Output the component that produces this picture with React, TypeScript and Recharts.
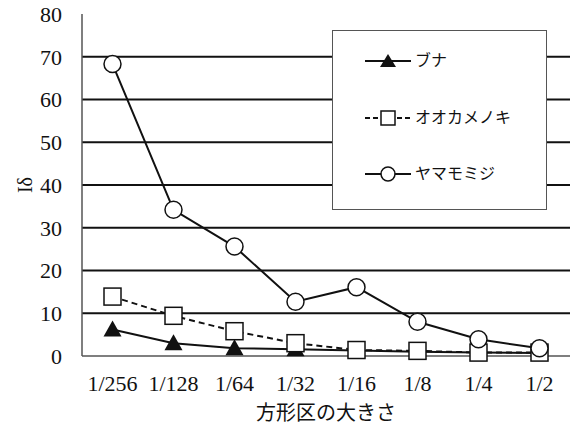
import React from "react";
import { LineChart, Line, XAxis, YAxis, ReferenceLine } from "recharts";

const sizes = ["1/256", "1/128", "1/64", "1/32", "1/16", "1/8", "1/4", "1/2"];
const buna = [6.2, 3.0, 1.8, 1.6, 1.3, 1.0, 0.8, 0.7];
const ookamenoki = [13.9, 9.4, 5.8, 3.0, 1.4, 1.2, 0.8, 0.8];
const yamamomiji = [68.3, 34.2, 25.6, 12.7, 16.1, 8.0, 3.9, 1.8];
const yTicks = [0, 10, 20, 30, 40, 50, 60, 70, 80];
const gridValues = [10, 20, 30, 40, 50, 60, 70];

const seriesNames = { buna: "ブナ", ookamenoki: "オオカメノキ", yamamomiji: "ヤマモミジ" };

const data = sizes.map((s, i) => ({
  size: s,
  buna: buna[i],
  ookamenoki: ookamenoki[i],
  yamamomiji: yamamomiji[i],
}));

const FONT = "'Liberation Serif', 'Noto Sans CJK JP', serif";
const INK = "#111";
const FRAME = "#555";

type DotProps = { cx?: number; cy?: number };

function TriangleDot({ cx, cy }: DotProps) {
  if (cx == null || cy == null) return null;
  return <polygon points={`${cx},${cy - 9} ${cx - 9},${cy + 7} ${cx + 9},${cy + 7}`} fill={INK} />;
}

function SquareDot({ cx, cy }: DotProps) {
  if (cx == null || cy == null) return null;
  return <rect x={cx - 8.5} y={cy - 8.5} width={17} height={17} fill="#fff" stroke={INK} strokeWidth={1.5} />;
}

function CircleDot({ cx, cy }: DotProps) {
  if (cx == null || cy == null) return null;
  return <circle cx={cx} cy={cy} r={8.5} fill="#fff" stroke={INK} strokeWidth={1.5} />;
}

// legend box drawn over the plot, like the original figure
function LegendBox() {
  const rows = [
    { key: "buna", dash: undefined, marker: <polygon points="23,3 15,16 31,16" fill={INK} /> },
    {
      key: "ookamenoki",
      dash: "5 3",
      marker: <rect x={16} y={3} width={14} height={14} fill="#fff" stroke={INK} strokeWidth={1.5} />,
    },
    { key: "yamamomiji", dash: undefined, marker: <circle cx={23} cy={10} r={7} fill="#fff" stroke={INK} strokeWidth={1.5} /> },
  ] as const;
  return (
    <div
      style={{
        position: "absolute",
        left: 332,
        top: 30,
        width: 213,
        height: 178,
        border: `1.5px solid ${FRAME}`,
        background: "#fff",
      }}
    >
      {rows.map((r, i) => (
        <div
          key={r.key}
          style={{
            position: "absolute",
            left: 32,
            top: 20 + i * 56.5,
            display: "flex",
            alignItems: "center",
          }}
        >
          <svg width={46} height={20}>
            <line x1={0} y1={10} x2={46} y2={10} stroke={INK} strokeWidth={2} strokeDasharray={r.dash} />
            {r.marker}
          </svg>
          <span style={{ fontFamily: FONT, fontSize: 16, color: INK, marginLeft: 4, lineHeight: "20px" }}>
            {seriesNames[r.key]}
          </span>
        </div>
      ))}
    </div>
  );
}

export default function App() {
  return (
    <div style={{ position: "absolute", left: 0, top: 0, width: 578, height: 430, background: "#fff" }}>
      <LineChart width={578} height={430} data={data} margin={{ top: 14, right: 8, bottom: 0, left: 0 }}>
        <XAxis
          dataKey="size"
          padding={{ left: 30.5, right: 30.5 }}
          height={74}
          tickLine={false}
          tickSize={0}
          tickMargin={19}
          axisLine={{ stroke: FRAME, strokeWidth: 1.5 }}
          tick={{ fill: INK, fontSize: 22, fontFamily: FONT }}
          interval={0}
          label={{
            value: "方形区の大きさ",
            position: "insideBottom",
            offset: 10,
            fill: INK,
            fontSize: 20,
            fontFamily: FONT,
          }}
        />
        <XAxis xAxisId="top" orientation="top" dataKey="size" height={0} tick={false} tickLine={false} axisLine={{ stroke: FRAME, strokeWidth: 1.5 }} />
        <YAxis
          width={82}
          domain={[0, 80]}
          ticks={yTicks}
          interval={0}
          tickLine={false}
          tickSize={0}
          tickMargin={20}
          axisLine={{ stroke: FRAME, strokeWidth: 1.5 }}
          tick={{ fill: INK, fontSize: 22, fontFamily: FONT }}
          label={{
            value: "Iδ",
            angle: -90,
            position: "insideLeft",
            offset: 25,
            textAnchor: "middle",
            fill: INK,
            fontSize: 20,
            fontFamily: FONT,
          }}
        />
        <YAxis yAxisId="right" orientation="right" width={0} domain={[0, 80]} tick={false} tickLine={false} axisLine={{ stroke: FRAME, strokeWidth: 1.5 }} />
        {gridValues.map((v) => (
          <ReferenceLine key={v} y={v} stroke={INK} strokeWidth={2} />
        ))}
        <Line
          type="linear"
          dataKey="buna"
          name={seriesNames.buna}
          stroke={INK}
          strokeWidth={2}
          dot={TriangleDot}
          activeDot={false}
          isAnimationActive={false}
        />
        <Line
          type="linear"
          dataKey="ookamenoki"
          name={seriesNames.ookamenoki}
          stroke={INK}
          strokeWidth={2}
          strokeDasharray="6 4"
          dot={SquareDot}
          activeDot={false}
          isAnimationActive={false}
        />
        <Line
          type="linear"
          dataKey="yamamomiji"
          name={seriesNames.yamamomiji}
          stroke={INK}
          strokeWidth={2}
          dot={CircleDot}
          activeDot={false}
          isAnimationActive={false}
        />
      </LineChart>
      <LegendBox />
    </div>
  );
}
